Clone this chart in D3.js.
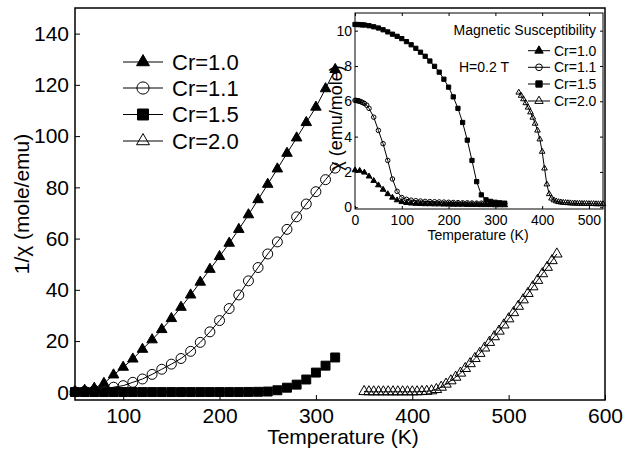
<!DOCTYPE html>
<html>
<head>
<meta charset="utf-8">
<script src="https://cdn.jsdelivr.net/npm/d3@7"></script>
<style>
  body { margin: 0; background: #fff; }
  svg { display: block; font-family: "Liberation Sans", Arial, Helvetica, sans-serif; }
</style>
</head>
<body>
<svg id="chart" width="627" height="450"></svg>
<script>
// ---- main panel: 1/chi (mole/emu) vs T ----
const tempLow = [50, 60, 70, 80, 90, 100, 110, 120, 130, 140, 150, 160, 170, 180, 190, 200,
  210, 220, 230, 240, 250, 260, 270, 280, 290, 300, 310, 320];
const invChiCr10 = [0.3, 0.8, 1.6, 3.5, 6.8, 9.8, 13.0, 16.8, 20.5, 24.5, 28.8, 33.2, 38.0, 43.0, 48.0, 53.0,
  58.2, 63.6, 69.3, 75.2, 81.2, 87.2, 93.3, 99.3, 105.3, 111.3, 118.5, 126.0];
const invChiCr11 = [0.2, 0.4, 0.7, 1.2, 2.0, 2.6, 3.9, 5.2, 7.0, 9.0, 11.0, 13.2, 16.0, 19.5, 23.6, 28.0,
  32.7, 38.0, 43.5, 48.7, 54.0, 58.7, 63.6, 68.5, 73.5, 78.3, 83.0, 87.5];
const invChiCr15 = [0.1, 0.1, 0.1, 0.1, 0.1, 0.1, 0.1, 0.1, 0.1, 0.1, 0.1, 0.1, 0.1, 0.1, 0.1, 0.1,
  0.1, 0.1, 0.15, 0.2, 0.3, 0.8, 1.8, 3.0, 5.0, 7.7, 10.4, 13.6];
const tempHigh = [350, 355, 360, 365, 370, 375, 380, 385, 390, 395, 400, 405, 410, 415, 420, 425, 430,
  435, 440, 445, 450, 455, 460, 465, 470, 475, 480, 485, 490, 495, 500, 505, 510, 515, 520, 525,
  530, 535, 540, 545, 550];
const invChiCr20 = [0.3, 0.2, 0.2, 0.2, 0.2, 0.2, 0.2, 0.2, 0.2, 0.2, 0.2, 0.2, 0.3, 0.4, 0.6, 1.1, 2.0,
  3.2, 4.5, 5.9, 7.5, 9.3, 11.2, 13.2, 15.2, 17.3, 19.5, 21.7, 23.9, 26.3, 28.7, 31.1, 33.6, 36.1, 38.6, 41.2,
  43.7, 46.3, 48.8, 51.4, 54.0];

// ---- inset: chi (emu/mole) vs T ----
const insTempA = [0, 10, 20, 30, 40, 50, 60, 70, 80, 90, 100, 110, 120, 130, 140, 150, 160, 170, 180,
  190, 200, 210, 220, 230, 240, 250, 260, 270, 280, 290, 300, 310, 320];
const chiCr10 = [2.1, 2.07, 1.97, 1.75, 1.5, 1.25, 1.0, 0.75, 0.55, 0.4, 0.3, 0.25, 0.22, 0.2, 0.19, 0.18,
  0.18, 0.17, 0.17, 0.16, 0.16, 0.15, 0.15, 0.15, 0.14, 0.14, 0.14, 0.13, 0.13, 0.13, 0.12, 0.12, 0.12];
const insTempB = [0, 2, 4, 6, 8, 10, 13, 16, 20, 25, 30, 40, 50, 60, 70, 80, 90, 100, 110, 120, 130, 140,
  150, 160, 170, 180, 190, 200, 210, 220, 230, 240, 250, 260, 270, 280, 290, 300, 310, 320];
const chiCr11 = [6.05, 6.05, 6.04, 6.03, 6.02, 6.0, 5.97, 5.93, 5.88, 5.78, 5.6, 5.1, 4.35, 3.6, 2.65, 1.6,
  0.9, 0.55, 0.45, 0.4, 0.37, 0.35, 0.33, 0.32, 0.31, 0.3, 0.29, 0.28, 0.27, 0.26, 0.25, 0.25, 0.24, 0.23,
  0.23, 0.22, 0.22, 0.21, 0.21, 0.2];
const insTempC = [0, 5, 10, 15, 20, 30, 40, 50, 60, 70, 80, 90, 100, 110, 120, 130, 140, 150, 160, 170,
  180, 190, 200, 210, 220, 230, 240, 250, 260, 270, 280, 290, 300, 310, 320];
const chiCr15 = [10.35, 10.35, 10.34, 10.33, 10.32, 10.28, 10.22, 10.15, 10.05, 9.93, 9.8, 9.68, 9.55,
  9.38, 9.2, 9.0, 8.78, 8.55, 8.28, 7.98, 7.65, 7.25, 6.8, 6.25, 5.6, 4.8, 3.8, 2.65, 1.45, 0.7, 0.42,
  0.33, 0.28, 0.25, 0.23];
const insTempD = [350, 355, 360, 365, 370, 375, 380, 385, 390, 395, 400, 405, 410, 415, 420, 425, 430,
  435, 440, 445, 450, 455, 460, 465, 470, 475, 480, 485, 490, 495, 500, 505, 510, 515, 520, 525, 530];
const chiCr20 = [6.5, 6.32, 6.12, 5.9, 5.65, 5.38, 5.08, 4.74, 4.35, 3.85, 3.15, 2.2, 1.3, 0.75, 0.5, 0.4,
  0.34, 0.3, 0.28, 0.26, 0.25, 0.24, 0.23, 0.22, 0.22, 0.21, 0.21, 0.2, 0.2, 0.2, 0.19, 0.19, 0.19, 0.18,
  0.18, 0.18, 0.18];

const mainXTicks = [100, 200, 300, 400, 500, 600];
const mainYTicks = [0, 20, 40, 60, 80, 100, 120, 140];
const insXTicks = [0, 100, 200, 300, 400, 500];
const insYTicks = [0, 2, 4, 6, 8, 10];
const seriesNames = ["Cr=1.0", "Cr=1.1", "Cr=1.5", "Cr=2.0"];

const svg = d3.select("#chart");

// marker styles in the order of seriesNames
const shapes = [
  { type: d3.symbolTriangle, fill: "#000" },
  { type: d3.symbolCircle, fill: "none" },
  { type: d3.symbolSquare, fill: "#000" },
  { type: d3.symbolTriangle, fill: "none" }
];
const mainSizes = [48, 78, 80, 48];
const insSizes = [14, 16, 18, 14];

function drawSeries(g, xs, ys, x, y, idx, size) {
  const pts = xs.map((t, i) => [x(t), y(ys[i])]);
  g.append("path")
    .attr("d", d3.line()(pts))
    .attr("fill", "none")
    .attr("stroke", "#000")
    .attr("stroke-width", 1);
  g.selectAll(null)
    .data(pts)
    .enter().append("path")
    .attr("transform", d => "translate(" + d[0] + "," + d[1] + ")")
    .attr("d", d3.symbol().type(shapes[idx].type).size(size))
    .attr("fill", shapes[idx].fill)
    .attr("stroke", "#000")
    .attr("stroke-width", 1);
}

// ================= main panel =================
const x = d3.scaleLinear().domain([50, 600]).range([75, 605]);
const y = d3.scaleLinear().domain([-3, 150]).range([400, 8]);

const main = svg.append("g");

main.append("rect")
  .attr("x", 75).attr("y", 8)
  .attr("width", 530).attr("height", 392)
  .attr("fill", "#fff").attr("stroke", "#000").attr("stroke-width", 1.5);

main.append("g")
  .attr("transform", "translate(0,400)")
  .call(d3.axisBottom(x).tickValues(mainXTicks).tickSizeInner(-5).tickSizeOuter(0).tickPadding(8))
  .call(g => g.select(".domain").remove())
  .call(g => g.selectAll("text").attr("font-size", 21).attr("fill", "#000"))
  .attr("font-family", null);

main.append("g")
  .attr("transform", "translate(75,0)")
  .call(d3.axisLeft(y).tickValues(mainYTicks).tickSizeInner(-5).tickSizeOuter(0).tickPadding(6))
  .call(g => g.select(".domain").remove())
  .call(g => g.selectAll("text").attr("font-size", 21).attr("fill", "#000"))
  .attr("font-family", null);

main.append("text")
  .attr("x", 343).attr("y", 444)
  .attr("text-anchor", "middle")
  .attr("font-size", 21)
  .text("Temperature (K)");

main.append("text")
  .attr("transform", "translate(29,204) rotate(-90)")
  .attr("text-anchor", "middle")
  .attr("font-size", 21)
  .text("1/χ (mole/emu)");

drawSeries(main, tempLow, invChiCr15, x, y, 2, mainSizes[2]);
drawSeries(main, tempLow, invChiCr11, x, y, 1, mainSizes[1]);
drawSeries(main, tempLow, invChiCr10, x, y, 0, mainSizes[0]);
drawSeries(main, tempHigh, invChiCr20, x, y, 3, mainSizes[3]);

// main legend
const legRows = [62, 88, 114.5, 141];
const leg = main.append("g");
seriesNames.forEach((name, i) => {
  leg.append("line")
    .attr("x1", 123).attr("x2", 163)
    .attr("y1", legRows[i]).attr("y2", legRows[i])
    .attr("stroke", "#000").attr("stroke-width", 1);
  leg.append("path")
    .attr("transform", "translate(143," + legRows[i] + ")")
    .attr("d", d3.symbol().type(shapes[i].type).size(mainSizes[i] * 1.5))
    .attr("fill", shapes[i].fill)
    .attr("stroke", "#000");
  leg.append("text")
    .attr("x", 172).attr("y", legRows[i])
    .attr("dy", "0.36em")
    .attr("font-size", 22)
    .text(name);
});

// ================= inset =================
const ix = d3.scaleLinear().domain([0, 530]).range([355, 603]);
const iy = d3.scaleLinear().domain([-0.1, 11]).range([209, 13]);

const ins = svg.append("g");

ins.append("rect")
  .attr("x", 355).attr("y", 13)
  .attr("width", 248).attr("height", 196)
  .attr("fill", "#fff").attr("stroke", "#000").attr("stroke-width", 1);

ins.append("g")
  .attr("transform", "translate(0,209)")
  .call(d3.axisBottom(ix).tickValues(insXTicks).tickSizeInner(-3).tickSizeOuter(0).tickPadding(6))
  .call(g => g.select(".domain").remove())
  .call(g => g.selectAll("text").attr("font-size", 14).attr("fill", "#000"))
  .attr("font-family", null);

ins.append("g")
  .attr("transform", "translate(0,13)")
  .call(d3.axisTop(ix).tickValues(insXTicks).tickSizeInner(-3).tickSizeOuter(0).tickFormat(""))
  .call(g => g.select(".domain").remove());

ins.append("g")
  .attr("transform", "translate(355,0)")
  .call(d3.axisLeft(iy).tickValues(insYTicks).tickSizeInner(-3).tickSizeOuter(0).tickPadding(3))
  .call(g => g.select(".domain").remove())
  .call(g => g.selectAll("text").attr("font-size", 14).attr("fill", "#000"))
  .attr("font-family", null);

ins.append("g")
  .attr("transform", "translate(603,0)")
  .call(d3.axisRight(iy).tickValues(insYTicks).tickSizeInner(-3).tickSizeOuter(0).tickFormat(""))
  .call(g => g.select(".domain").remove());

ins.append("text")
  .attr("x", 478).attr("y", 240)
  .attr("text-anchor", "middle")
  .attr("font-size", 14)
  .text("Temperature (K)");

ins.append("text")
  .attr("transform", "translate(342,118) rotate(-90)")
  .attr("text-anchor", "middle")
  .attr("font-size", 18)
  .text("χ (emu/mole)");

drawSeries(ins, insTempA, chiCr10, ix, iy, 0, insSizes[0]);
drawSeries(ins, insTempB, chiCr11, ix, iy, 1, insSizes[1]);
drawSeries(ins, insTempC, chiCr15, ix, iy, 2, insSizes[2]);
drawSeries(ins, insTempD, chiCr20, ix, iy, 3, insSizes[3]);

ins.append("text")
  .attr("x", 596).attr("y", 30)
  .attr("dy", "0.36em")
  .attr("text-anchor", "end")
  .attr("font-size", 14)
  .text("Magnetic Susceptibility");

ins.append("text")
  .attr("x", 459).attr("y", 67)
  .attr("dy", "0.36em")
  .attr("font-size", 14)
  .text("H=0.2 T");

const insRows = [50.7, 67.3, 84, 101];
seriesNames.forEach((name, i) => {
  ins.append("line")
    .attr("x1", 528).attr("x2", 550)
    .attr("y1", insRows[i]).attr("y2", insRows[i])
    .attr("stroke", "#000").attr("stroke-width", 1);
  ins.append("path")
    .attr("transform", "translate(539," + insRows[i] + ")")
    .attr("d", d3.symbol().type(shapes[i].type).size(insSizes[i] * 2.2))
    .attr("fill", shapes[i].fill)
    .attr("stroke", "#000");
  ins.append("text")
    .attr("x", 554).attr("y", insRows[i])
    .attr("dy", "0.36em")
    .attr("font-size", 14)
    .text(name);
});
</script>
</body>
</html>
